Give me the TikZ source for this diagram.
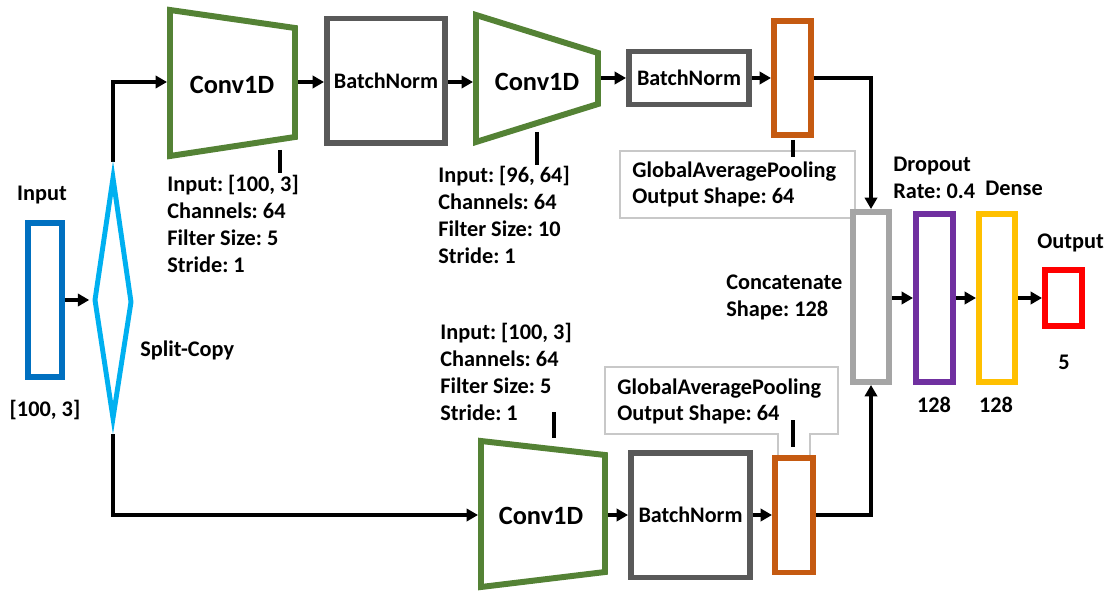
\documentclass[tikz,border=0pt]{standalone}
\usepackage{fontspec}
\setmainfont{Carlito}
\usetikzlibrary{arrows.meta}
\frenchspacing

\definecolor{inblue}{HTML}{0070C0}
\definecolor{splitcyan}{HTML}{00B0F0}
\definecolor{convgreen}{HTML}{548235}
\definecolor{bngray}{HTML}{595959}
\definecolor{poolorange}{HTML}{C55A11}
\definecolor{catgray}{HTML}{A5A5A5}
\definecolor{droppurple}{HTML}{7030A0}
\definecolor{denseyellow}{HTML}{FFC000}
\definecolor{outred}{HTML}{FF0000}
\definecolor{boxgray}{HTML}{C8C8C8}

\begin{document}
\begin{tikzpicture}[x=0.02cm, y=-0.02cm, >={Triangle[length=6.5pt,width=7pt]},
  font=\bfseries\fontsize{12.7}{15.3}\selectfont,
  blk/.style 2 args={draw, line width=3.4pt, fill=white, inner sep=0pt, minimum width=#1, minimum height=#2},
  bnfont/.style={font=\bfseries\fontsize{12.6}{14}\selectfont},
  conv/.style={draw=convgreen, line width=3.4pt, line join=miter},
  convtxt/.style={font=\bfseries\fontsize{15}{17}\selectfont, inner sep=0pt},
  link/.style={->, line width=2.1pt},
  tick/.style={line width=2.1pt},
  note/.style={anchor=north west, align=left, inner sep=0pt},
  lbl/.style={inner sep=0pt},
  infobox/.style={draw=boxgray, line width=0.6pt}]
  \useasboundingbox (0,0) rectangle (1114,594);

  % Input and split
  \node[blk={0.68cm}{3.08cm}, draw=inblue] (in) at (45,300) {};
  \node[lbl] (inlbl) at (42,195) {Input};
  \node[lbl] (insz) at (45,410) {[100, 3]};
  \coordinate (sp-top) at (113,162);
  \coordinate (sp-bot) at (113,434);
  \coordinate (sp-in) at (91,300);
  \node[lbl, anchor=west] (splbl) at (140,350) {Split-Copy};

  % Conv1D blocks (trapezoids)
  \coordinate (c1w) at (167,82);
  \coordinate (c1e) at (298,82);
  \coordinate (c2w) at (473,82);
  \coordinate (c2e) at (601,78);
  \coordinate (c3w) at (478,515);
  \coordinate (c3e) at (608,515);

  % Upper branch links
  \draw[link] (sp-top) |- (c1w);
  \draw[link] (sp-bot) |- (c3w);
  \draw[link, shorten >=1pt] (in.east) -- (sp-in);

  \draw[splitcyan, line width=2.8pt] (113,178) -- (131,302) -- (113,418) -- (95,300) -- cycle;

  \draw[conv] (170,10) -- (295,28) -- (295,137) -- (170,156) -- cycle;
  \draw[conv] (476,15) -- (598,53) -- (598,104) -- (476,142) -- cycle;
  \draw[conv] (481,441) -- (605,455) -- (605,572) -- (481,587) -- cycle;
  \node[convtxt] (c1) at (232,85) {Conv1D};
  \node[convtxt] (c2) at (537,82) {Conv1D};
  \node[convtxt] (c3) at (541,516) {Conv1D};

  % BatchNorm blocks
  \node[blk={2.36cm}{2.5cm}, draw=bngray, bnfont] (bn1) at (386,81) {BatchNorm};
  \node[blk={2.4cm}{1.06cm}, draw=bngray, bnfont] (bn2) at (689,78) {BatchNorm};
  \node[blk={2.38cm}{2.5cm}, draw=bngray, bnfont] (bn3) at (690.5,515) {BatchNorm};

  % Pooling label boxes
  \draw[infobox] (620,151) rectangle (855,218);
  \draw[infobox] (778,455) -- (778,434) -- (605,434) -- (605,367) -- (838,367) -- (838,434) -- (810,434) -- (810,455);

  % Pooling, merge and head
  \node[blk={0.74cm}{2.28cm}, draw=poolorange] (gap1) at (792.5,78) {};
  \node[blk={0.76cm}{2.3cm}, draw=poolorange] (gap2) at (794,515) {};
  \node[blk={0.72cm}{3.4cm}, draw=catgray] (cat) at (871,297) {};
  \node[blk={0.74cm}{3.36cm}, draw=droppurple] (drop) at (934.5,298) {};
  \node[blk={0.72cm}{3.36cm}, draw=denseyellow] (dense) at (997,298) {};
  \node[blk={0.74cm}{1.12cm}, draw=outred] (out) at (1063.5,298) {};

  % Links
  \draw[link] (c1e) -- (bn1.west |- c1e);
  \draw[link] (bn1.east |- c2w) -- (c2w);
  \draw[link] (c2e) -- (bn2.west |- c2e);
  \draw[link] (bn2.east) -- (gap1.west);
  \draw[link] (gap1.east) -| (cat.north);
  \draw[link] (c3e) -- (bn3.west |- c3e);
  \draw[link] (bn3.east) -- (gap2.west);
  \draw[link] (gap2.east) -| (cat.south);
  \draw[link] (cat.east |- drop.west) -- (drop.west);
  \draw[link] (drop.east) -- (dense.west);
  \draw[link] (dense.east) -- (out.west);

  % Ticks to the notes
  \draw[tick] (280,150) -- (280,173);
  \draw[tick] (537,132) -- (537,165);
  \draw[tick] (554,412) -- (554,438);
  \draw[tick] (793,140) -- (793,157);
  \draw[tick] (793,420) -- (793,447);

  % Notes
  \node[note] (n1) at (167,175) {Input: [100, 3]\\Channels: 64\\Filter Size: 5\\Stride: 1};
  \node[note] (n2) at (438,166) {Input: [96, 64]\\Channels: 64\\Filter Size: 10\\Stride: 1};
  \node[note] (n3) at (440,323) {Input: [100, 3]\\Channels: 64\\Filter Size: 5\\Stride: 1};
  \node[note] (p1) at (632,161) {GlobalAveragePooling\\Output Shape: 64};
  \node[note] (p2) at (617,378) {GlobalAveragePooling\\Output Shape: 64};
  \node[note] (catlbl) at (726,275) {Concatenate\\Shape: 128};
  \node[note] (droplbl) at (893,157) {Dropout\\Rate: 0.4};
  \node[lbl, anchor=west] (denselbl) at (985,188) {Dense};
  \node[lbl, anchor=west] (outlbl) at (1037,243) {Output};
  \node[lbl] (dropsz) at (934,405) {128};
  \node[lbl] (densesz) at (996,405) {128};
  \node[lbl] (outsz) at (1064,362) {5};
\end{tikzpicture}
\end{document}
